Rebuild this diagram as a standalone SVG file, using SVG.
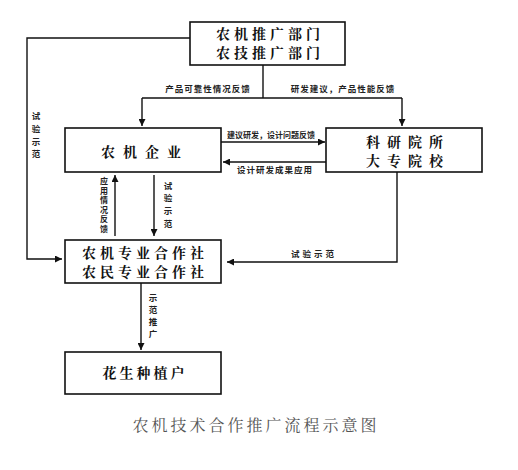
<svg xmlns="http://www.w3.org/2000/svg" width="518" height="470" viewBox="0 0 518 470">
<style>
.box{fill:#fff;stroke:#111;stroke-width:1.6}
.bt{font-family:"Noto Serif CJK SC","Noto Sans CJK SC",serif;font-size:14px;font-weight:bold;fill:#111;text-anchor:middle;letter-spacing:4px}
.lb{font-family:"Noto Sans CJK SC",sans-serif;font-size:8.5px;font-weight:bold;fill:#222;text-anchor:middle}
.vl{font-family:"Noto Sans CJK SC",sans-serif;font-size:8px;font-weight:bold;fill:#222;text-anchor:middle}
.ln{fill:none;stroke:#111;stroke-width:1.4}
.cap{font-family:"Noto Serif CJK SC","Noto Sans CJK SC",serif;font-size:16px;fill:#555;text-anchor:middle;letter-spacing:3px}
</style>
<defs>
<marker id="ah" viewBox="0 0 10 10" refX="10" refY="5" markerWidth="7" markerHeight="7" markerUnits="userSpaceOnUse" orient="auto">
<path d="M0,0 L10,5 L0,10 z" fill="#111"/>
</marker>
</defs>
<g id="connectors">
<polyline class="ln" points="263,65 263,98"/>
<polyline class="ln" points="142,98 402,98"/>
<line class="ln" x1="142" y1="98" x2="142" y2="126" marker-end="url(#ah)"/>
<line class="ln" x1="402" y1="98" x2="402" y2="126" marker-end="url(#ah)"/>
<text class="lb" x="208" y="92" style="letter-spacing:1px">产品可靠性情况反馈</text>
<text class="lb" x="343" y="92" style="letter-spacing:1px">研发建议，产品性能反馈</text>
<polyline class="ln" points="190,38 27,38 27,259 62,259" marker-end="url(#ah)"/>
<text class="lb" x="36" y="119">试</text>
<text class="lb" x="36" y="132">验</text>
<text class="lb" x="36" y="145">示</text>
<text class="lb" x="36" y="157">范</text>
<line class="ln" x1="221" y1="142" x2="325" y2="142" marker-end="url(#ah)"/>
<text class="lb" x="271" y="138" style="font-size:8px">建议研发，设计问题反馈</text>
<line class="ln" x1="326" y1="162" x2="223" y2="162" marker-end="url(#ah)"/>
<text class="lb" x="275" y="173" style="letter-spacing:1px">设计研发成果应用</text>
<line class="ln" x1="115" y1="236" x2="115" y2="175" marker-end="url(#ah)"/>
<text class="vl" x="104" y="184">应</text>
<text class="vl" x="104" y="193.5">用</text>
<text class="vl" x="104" y="203">情</text>
<text class="vl" x="104" y="212.5">况</text>
<text class="vl" x="104" y="222">反</text>
<text class="vl" x="104" y="231.5">馈</text>
<line class="ln" x1="154" y1="175" x2="154" y2="236" marker-end="url(#ah)"/>
<text class="lb" x="168" y="189">试</text>
<text class="lb" x="168" y="201">验</text>
<text class="lb" x="168" y="214">示</text>
<text class="lb" x="168" y="227">范</text>
<polyline class="ln" points="397,172 397,262 227,262" marker-end="url(#ah)"/>
<text class="lb" x="314" y="257" style="letter-spacing:3px">试验示范</text>
<line class="ln" x1="141" y1="283" x2="141" y2="350" marker-end="url(#ah)"/>
<text class="lb" x="153" y="301">示</text>
<text class="lb" x="153" y="313">范</text>
<text class="lb" x="153" y="325">推</text>
<text class="lb" x="153" y="337">广</text>
</g>
<g id="n1">
<rect class="box" x="190" y="22" width="155" height="43"/>
<text class="bt" x="270" y="39">农机推广部门</text>
<text class="bt" x="270" y="58">农技推广部门</text>
</g>
<g id="n2">
<rect class="box" x="65" y="128" width="156" height="44"/>
<text class="bt" x="145" y="157" style="letter-spacing:8px">农机企业</text>
</g>
<g id="n3">
<rect class="box" x="326" y="128" width="156" height="44"/>
<text class="bt" x="408" y="146.5" style="letter-spacing:7px">科研院所</text>
<text class="bt" x="408" y="166" style="letter-spacing:7px">大专院校</text>
</g>
<g id="n4">
<rect class="box" x="65" y="240" width="156" height="43"/>
<text class="bt" x="145" y="258">农机专业合作社</text>
<text class="bt" x="145" y="277">农民专业合作社</text>
</g>
<g id="n5">
<rect class="box" x="65" y="352" width="156" height="42"/>
<text class="bt" x="145" y="378" style="letter-spacing:3px">花生种植户</text>
</g>
<text class="cap" x="256" y="431">农机技术合作推广流程示意图</text>
</svg>
